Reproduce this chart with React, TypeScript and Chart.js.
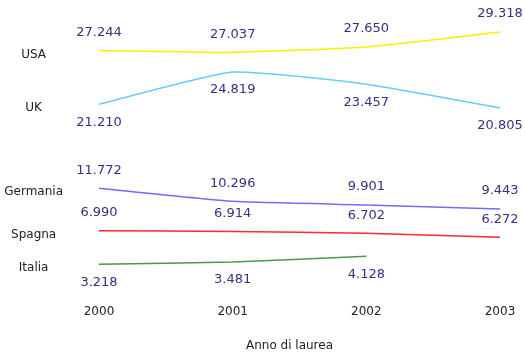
import React, { useEffect, useRef } from 'react';
import { Chart, registerables } from 'chart.js';

Chart.register(...registerables);

const years = ['2000', '2001', '2002', '2003'];
const countries = ['USA', 'UK', 'Germania', 'Spagna', 'Italia'];
const usa = [27244, 27037, 27650, 29318];
const uk = [21210, 24819, 23457, 20805];
const germania = [11772, 10296, 9901, 9443];
const spagna = [6990, 6914, 6702, 6272];
const italia = [3218, 3481, 4128, null];
const seriesValues = [usa, uk, germania, spagna, italia];
const xAxisTitle = 'Anno di laurea';

const seriesColors = ['#f2f200', '#66ccff', '#6e6ef7', '#ff2a2a', '#4a9a4a'];
const labelSides = ['above', 'below', 'above', 'above', 'below'];

const FONT = '"DejaVu Sans", Verdana, sans-serif';

const fmt = (v: number) => String(v).replace(/\B(?=(\d{3})+(?!\d))/g, '.');

const valueLabels = {
  id: 'valueLabels',
  afterDatasetsDraw(chart: any) {
    const ctx = chart.ctx;
    ctx.save();
    ctx.font = `13px ${FONT}`;
    ctx.fillStyle = '#3c2d84';
    ctx.textAlign = 'center';
    ctx.textBaseline = 'middle';
    chart.data.datasets.forEach((ds: any, i: number) => {
      const meta = chart.getDatasetMeta(i);
      meta.data.forEach((pt: any, j: number) => {
        const v = ds.data[j];
        if (v == null) return;
        const dy = labelSides[i] === 'above' ? -18 : 18;
        ctx.fillText(fmt(v), pt.x, pt.y + dy);
      });
    });
    ctx.restore();
  },
};

const axisTitle = {
  id: 'axisTitle',
  afterDraw(chart: any) {
    const ctx = chart.ctx;
    const xs = chart.scales.x;
    ctx.save();
    ctx.font = `12px ${FONT}`;
    ctx.fillStyle = '#222';
    ctx.textAlign = 'center';
    ctx.textBaseline = 'middle';
    ctx.fillText(xAxisTitle, (xs.left + xs.right) / 2 - 10, xs.bottom - 8);
    ctx.restore();
  },
};

export default function App() {
  const ref = useRef<HTMLCanvasElement>(null);
  useEffect(() => {
    if (!ref.current) return;
    const chart = new Chart(ref.current, {
      type: 'line',
      data: {
        labels: years,
        datasets: seriesValues.map((vals, i) => ({
          label: countries[i],
          data: vals,
          borderColor: seriesColors[i],
          backgroundColor: seriesColors[i],
          borderWidth: 1.5,
          pointRadius: 0,
          pointHoverRadius: 0,
          tension: 0.15,
          fill: false,
        })),
      },
      options: {
        animation: false,
        responsive: false,
        devicePixelRatio: 1,
        layout: { padding: { top: 26, right: 25, left: 0, bottom: 0 } },
        plugins: {
          legend: { display: false },
          tooltip: { enabled: false },
        },
        scales: {
          x: {
            offset: false,
            grid: { display: false, drawTicks: false },
            border: { display: false },
            ticks: {
              padding: 12,
              maxRotation: 0,
              font: { family: FONT, size: 12 },
              color: '#222',
            },
            title: { display: false },
            afterFit: (axis: any) => {
              axis.height = 61;
              axis.paddingLeft = 0;
              axis.paddingRight = 0;
            },
          },
          y: {
            min: 0,
            max: 30000,
            grid: { display: false, drawTicks: false },
            border: { display: false },
            afterBuildTicks: (axis: any) => {
              axis.ticks = seriesValues.map((s) => ({ value: s[0] as number }));
            },
            afterFit: (axis: any) => {
              axis.width = 99;
              axis.paddingTop = 0;
              axis.paddingBottom = 0;
            },
            ticks: {
              autoSkip: false,
              crossAlign: 'center',
              padding: 36,
              labelOffset: 4,
              font: { family: FONT, size: 12 },
              color: '#222',
              callback: (_v: any, i: number) => countries[i],
            },
          },
        },
      },
      plugins: [valueLabels, axisTitle],
    } as any);
    return () => chart.destroy();
  }, []);
  return (
    <div style={{ position: 'fixed', left: 0, top: 0, width: 525, height: 354, background: '#fff' }}>
      <canvas ref={ref} width={525} height={354} style={{ display: 'block' }} />
    </div>
  );
}
